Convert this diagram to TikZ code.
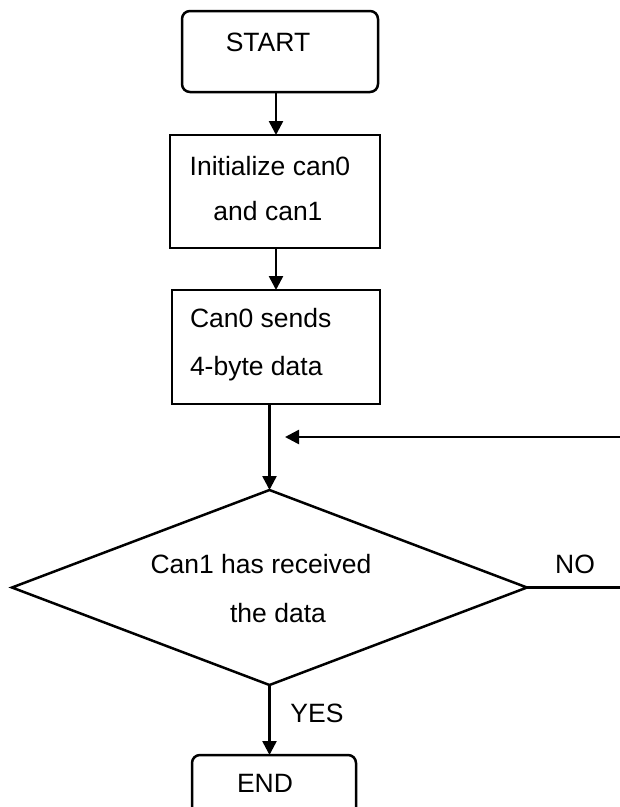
\documentclass[tikz,border=0pt]{standalone}
\usepackage{fontspec}
\setmainfont{Liberation Sans}
\usetikzlibrary{arrows.meta,shapes.geometric}
\begin{document}
\begin{tikzpicture}[x=1pt,y=-1pt,
  every node/.style={inner sep=0pt,outer sep=0pt},
  ln/.style={line width=2.5pt,black},
  arr/.style={ln,-{Triangle[length=14pt,width=14pt]}},
  box/.style={draw,ln,rectangle},
  term/.style={draw,ln,rectangle,rounded corners=8pt},
  dec/.style={draw,ln,diamond},
  txt/.style={anchor=base,font=\fontsize{26.5}{30}\selectfont},
  ltxt/.style={anchor=base west,font=\fontsize{26.5}{30}\selectfont}]
\useasboundingbox (0,0) rectangle (620,807);
% shapes
\node[term,minimum width=196pt,minimum height=81pt] (start) at (280,51.5) {};
\node[box,minimum width=210pt,minimum height=113pt] (init) at (275,191.5) {};
\node[box,minimum width=208pt,minimum height=114pt] (send) at (276,347) {};
\node[dec,minimum width=515pt,minimum height=195pt] (dia) at (269.5,587.5) {};
\node[term,minimum width=164pt,minimum height=80pt] (end) at (274,795) {};
% texts
\node[txt] (tstart) at (268,51) {START};
\node[txt] (tinit1) at (270,175) {Initialize can0};
\node[txt] (tinit2) at (268,220) {and can1};
\node[ltxt] (tsend1) at (190,327) {Can0 sends};
\node[ltxt] (tsend2) at (190,375) {4-byte data};
\node[txt] (tdia1) at (261,573) {Can1 has received};
\node[txt] (tdia2) at (278,622) {the data};
\node[txt] (tno) at (575,573) {NO};
\node[txt] (tyes) at (317,722) {YES};
\node[txt] (tend) at (265,792) {END};
% helper coordinates
\coordinate (ax) at (276,0);
\coordinate (fbr) at (620,437);
\coordinate (fbl) at (285,437);
\coordinate (nor) at (620,587.5);
% connectors
\draw[arr] (start.south -| ax) -- (init.north -| ax);
\draw[arr] (init.south -| ax) -- (send.north -| ax);
\draw[arr] (send.south -| dia.north) -- (dia.north);
\draw[arr] (dia.south) -- (dia.south |- end.north);
\draw[arr] (fbr) -- (fbl);
\draw[ln] (dia.east) -- (nor);
\end{tikzpicture}
\end{document}
